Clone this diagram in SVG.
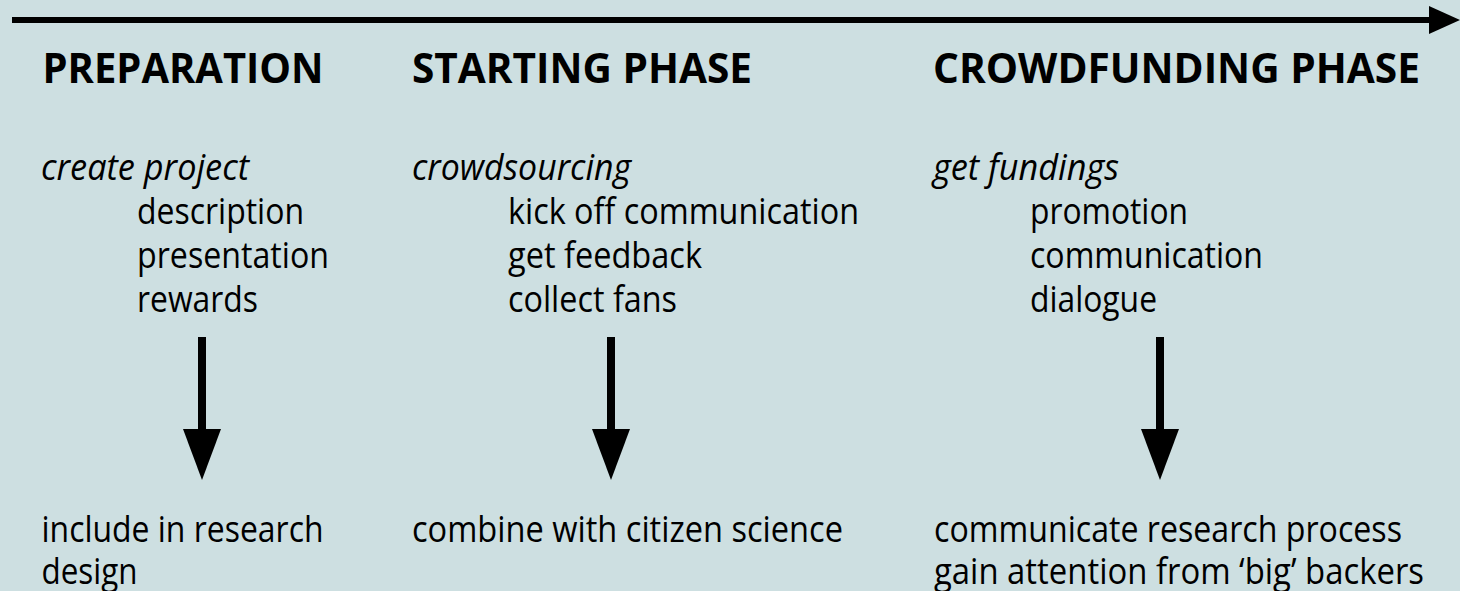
<svg xmlns="http://www.w3.org/2000/svg" width="1460" height="591" viewBox="0 0 1460 591">
<style>
text{font-family:"Open Sans","Noto Sans","DejaVu Sans",sans-serif;fill:#000}
.h{font-size:42px;font-weight:bold}
.i{font-size:36px;font-style:italic}
.t{font-size:36px}
.shaft{stroke:#000;stroke-width:8;fill:none}
.head{fill:#000}
</style>
<rect x="0" y="0" width="1460" height="591" fill="#cddfe1"/>
<g id="connectors">
<g id="timeline">
<line x1="12" y1="20" x2="1431" y2="20" stroke="#000" stroke-width="6"/>
<polygon class="head" points="1429,6 1460,20 1429,34"/>
</g>
<g id="arrow-preparation">
<line class="shaft" x1="202" y1="337" x2="202" y2="432"/>
<polygon class="head" points="183,429 221,429 202,480"/>
</g>
<g id="arrow-starting">
<line class="shaft" x1="611" y1="337" x2="611" y2="432"/>
<polygon class="head" points="592,429 630,429 611,480"/>
</g>
<g id="arrow-crowdfunding">
<line class="shaft" x1="1160" y1="337" x2="1160" y2="432"/>
<polygon class="head" points="1141,429 1179,429 1160,480"/>
</g>
</g>
<g id="preparation">
<text class="h" x="42.5" y="83" textLength="281" lengthAdjust="spacingAndGlyphs">PREPARATION</text>
<text class="i" x="41" y="180" textLength="208" lengthAdjust="spacingAndGlyphs">create project</text>
<text class="t" x="137" y="224" textLength="167" lengthAdjust="spacingAndGlyphs">description</text>
<text class="t" x="137" y="268" textLength="192" lengthAdjust="spacingAndGlyphs">presentation</text>
<text class="t" x="137" y="312" textLength="121" lengthAdjust="spacingAndGlyphs">rewards</text>
</g>
<g id="preparation-result">
<text class="t" x="41.5" y="542" textLength="282" lengthAdjust="spacingAndGlyphs">include in research</text>
<text class="t" x="41.5" y="584" textLength="96" lengthAdjust="spacingAndGlyphs">design</text>
</g>
<g id="starting">
<text class="h" x="412" y="83" textLength="340" lengthAdjust="spacingAndGlyphs">STARTING PHASE</text>
<text class="i" x="412" y="180" textLength="219" lengthAdjust="spacingAndGlyphs">crowdsourcing</text>
<text class="t" x="508" y="224" textLength="351" lengthAdjust="spacingAndGlyphs">kick off communication</text>
<text class="t" x="508" y="268" textLength="194" lengthAdjust="spacingAndGlyphs">get feedback</text>
<text class="t" x="508" y="312" textLength="169" lengthAdjust="spacingAndGlyphs">collect fans</text>
</g>
<g id="starting-result">
<text class="t" x="412" y="542" textLength="431" lengthAdjust="spacingAndGlyphs">combine with citizen science</text>
</g>
<g id="crowdfunding">
<text class="h" x="933" y="83" textLength="487" lengthAdjust="spacingAndGlyphs">CROWDFUNDING PHASE</text>
<text class="i" x="933" y="180" textLength="186" lengthAdjust="spacingAndGlyphs">get fundings</text>
<text class="t" x="1030" y="224" textLength="158" lengthAdjust="spacingAndGlyphs">promotion</text>
<text class="t" x="1030" y="268" textLength="233" lengthAdjust="spacingAndGlyphs">communication</text>
<text class="t" x="1030" y="312" textLength="127" lengthAdjust="spacingAndGlyphs">dialogue</text>
</g>
<g id="crowdfunding-result">
<text class="t" x="934" y="542" textLength="468" lengthAdjust="spacingAndGlyphs">communicate research process</text>
<text class="t" x="934" y="584" textLength="490" lengthAdjust="spacingAndGlyphs">gain attention from ‘big’ backers</text>
</g>
</svg>
